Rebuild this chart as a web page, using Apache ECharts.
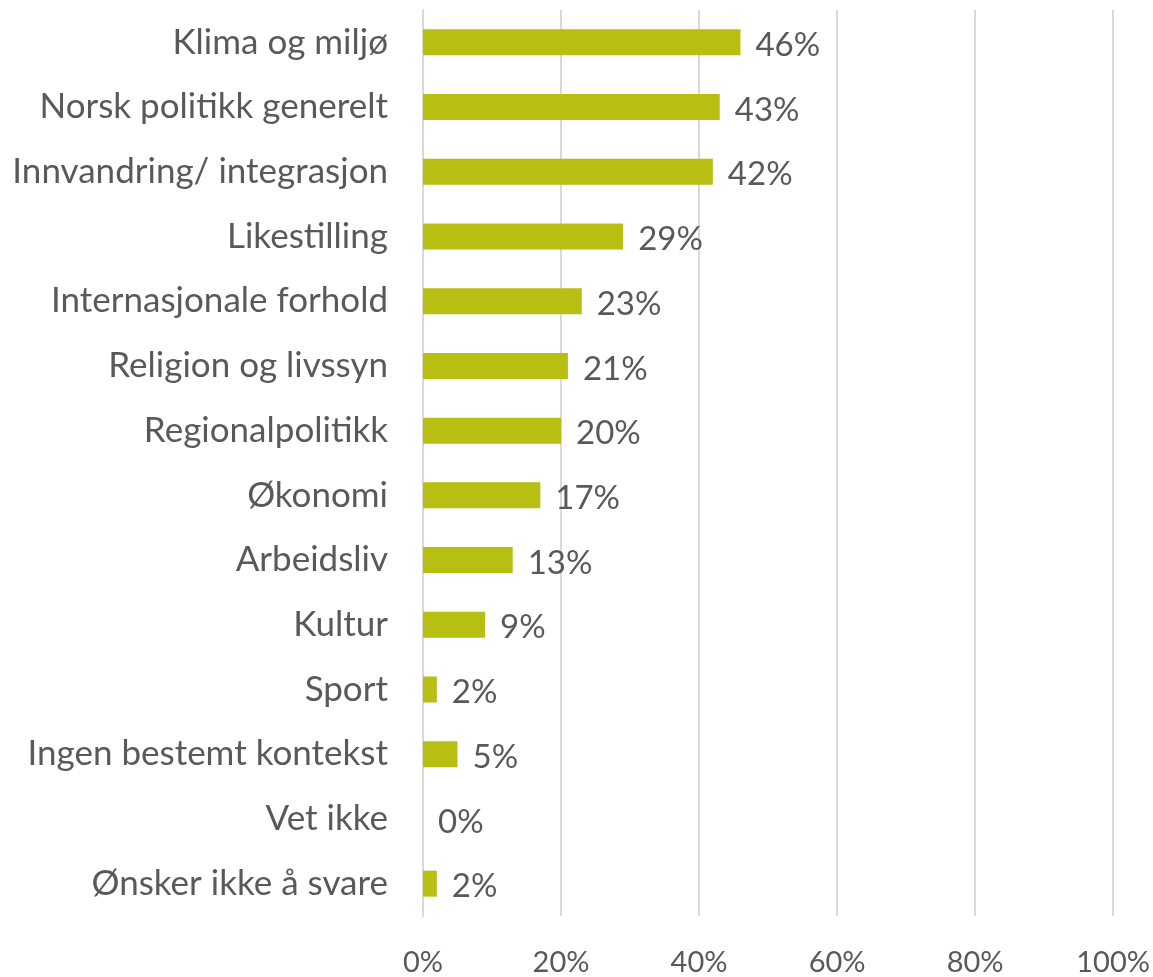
<!DOCTYPE html>
<html>
<head>
<meta charset="utf-8">
<script src="https://cdn.jsdelivr.net/npm/echarts@6/dist/echarts.min.js"></script>
<style>
  html, body { margin: 0; padding: 0; background: #fff; }
  #chart { width: 1153px; height: 977px; }
</style>
</head>
<body>
<div id="chart"></div>
<script>
var categories = ['Klima og miljø', 'Norsk politikk generelt', 'Innvandring/ integrasjon', 'Likestilling',
  'Internasjonale forhold', 'Religion og livssyn', 'Regionalpolitikk', 'Økonomi', 'Arbeidsliv',
  'Kultur', 'Sport', 'Ingen bestemt kontekst', 'Vet ikke', 'Ønsker ikke å svare'];
var values = [46, 43, 42, 29, 23, 21, 20, 17, 13, 9, 2, 5, 0, 2];

var textColor = '#595959';
var fontName = 'Lato, "Open Sans", sans-serif';

var myChart = echarts.init(document.getElementById('chart'));
myChart.setOption({
  animation: false,
  grid: { left: 423, right: 39, top: 10, bottom: 54, containLabel: false },
  xAxis: {
    type: 'value',
    min: 0, max: 100, interval: 20,
    axisLine: { show: false },
    axisTick: { show: false },
    splitLine: { lineStyle: { color: '#D9D9D9', width: 2 } },
    axisLabel: { formatter: '{value}%', color: textColor, fontSize: 29, fontFamily: fontName, margin: 32 }
  },
  yAxis: {
    type: 'category',
    inverse: true,
    data: categories,
    axisLine: { lineStyle: { color: '#D9D9D9', width: 2 } },
    axisTick: { show: false },
    axisLabel: { color: textColor, fontSize: 35, fontFamily: fontName, margin: 35, padding: [0, 0, 8, 0] }
  },
  series: [{
    type: 'bar',
    data: values,
    barWidth: 26,
    itemStyle: { color: '#B7BF12' },
    label: {
      show: true,
      position: 'right',
      distance: 15,
      offset: [0, 3],
      formatter: '{c}%',
      color: textColor,
      fontSize: 33,
      fontFamily: fontName
    }
  }]
});
</script>
</body>
</html>
